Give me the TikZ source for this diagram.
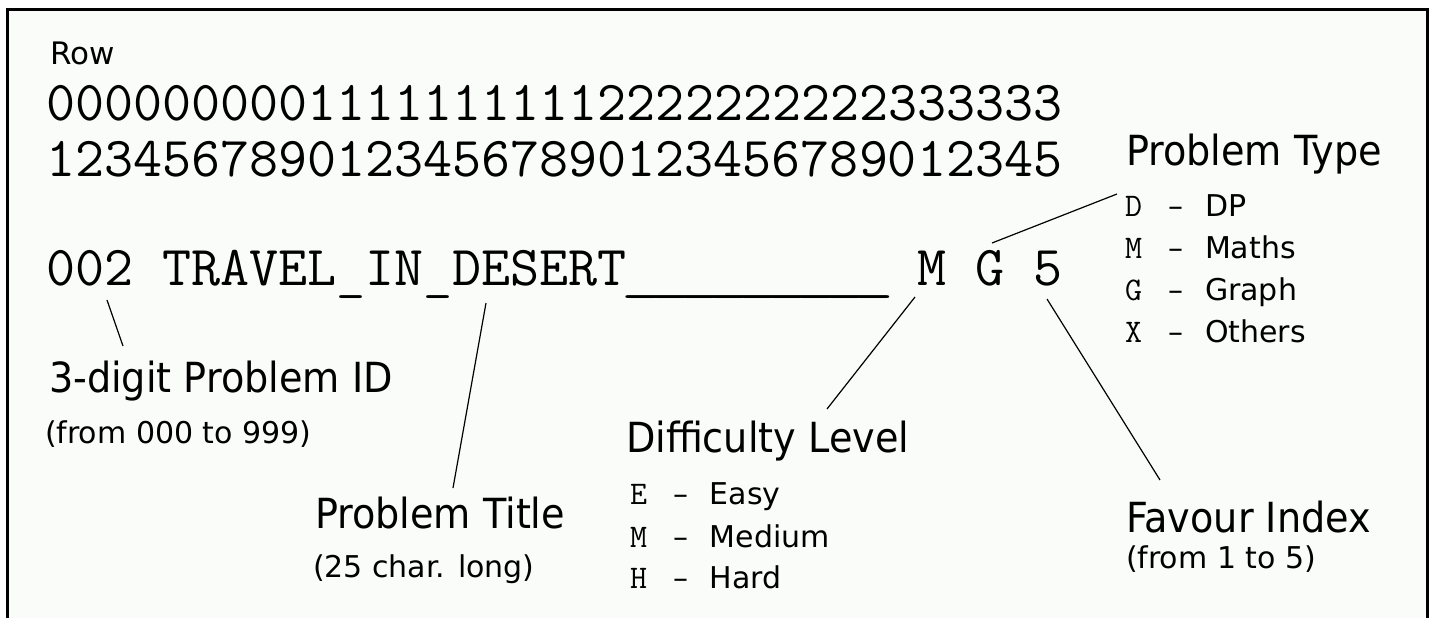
\documentclass[tikz,border=0pt]{standalone}
\usepackage{graphicx}
\usepackage{fontspec}
\setmainfont{DejaVu Sans}
\newfontfamily\tahf{DejaVu Sans}[FakeStretch=0.92]
\definecolor{paper}{HTML}{FAFCFA}
\tikzset{
  txt/.style={anchor=base west, inner sep=0pt, outer sep=0pt, text=black},
  bigmono/.style={txt, font=\ttfamily\fontsize{56.4}{56}\selectfont},
  biglbl/.style={txt, font=\tahf\fontsize{41.5}{42}\selectfont},
  smalllbl/.style={txt, font=\fontsize{30}{30}\selectfont},
  rowlbl/.style={txt, font=\fontsize{31}{31}\selectfont},
  leader/.style={draw=black, line width=1.2pt},
  frame/.style={draw=black, line width=3pt}
}
% underscore inside a word (kept at its natural width)
\newcommand{\uscin}{\raisebox{-0.08em}{\scalebox{1}[0.8]{\_}}}
% padding underscore stretched to fill its cell, as in the reference
\newcommand{\usc}{\makebox[\fontcharwd\font`0][c]{\raisebox{-0.08em}{\scalebox{1.4}[0.8]{\_}}}}
\newcommand{\litem}[2]{\makebox[43pt][l]{{\ttfamily\fontsize{33}{33}\selectfont #1}}\makebox[37pt][l]{–}#2}
\begin{document}
\begin{tikzpicture}[x=1pt,y=-1pt]
\useasboundingbox (0,0) rectangle (1430,618);
\fill[white] (0,0) rectangle (1430,618);
\fill[paper] (7.5,9.5) rectangle (1427,620);
\draw[frame] (7.5,620) -- (7.5,9.5) -- (1427,9.5) -- (1427,620);

\node[rowlbl] (row) at (50,65) {Row};
\node[bigmono] (tens) at (46,120) {00000000011111111112222222222333333};
\node[bigmono] (ones) at (46,176) {12345678901234567890123456789012345};
\node[bigmono] (rec) at (46,285) {002 TRAVEL\uscin IN\uscin DESERT\usc\usc\usc\usc\usc\usc\usc\usc\usc{} M G 5};

% Problem type
\node[biglbl] (ptype) at (1126,165) {Problem Type};
\node[smalllbl] (t1) at (1125,216) {\litem{D}{DP}};
\node[smalllbl] (t2) at (1125,258) {\litem{M}{Maths}};
\node[smalllbl] (t3) at (1125,300) {\litem{G}{Graph}};
\node[smalllbl] (t4) at (1125,342) {\litem{X}{Others}};

% ID
\node[biglbl] (pid) at (49,392) {3-digit Problem ID};
\node[smalllbl] (pidr) at (45,443) {(from 000 to 999)};

% Title
\node[biglbl] (ptitle) at (315,528) {Problem Title};
\node[smalllbl] (ptitler) at (313,577) {(25 char. long)};

% Difficulty
\node[biglbl] (diff) at (626,452) {Difficulty Level};
\node[smalllbl] (d1) at (630,504) {\litem{E}{Easy}};
\node[smalllbl] (d2) at (630,547) {\litem{M}{Medium}};
\node[smalllbl] (d3) at (630,588) {\litem{H}{Hard}};

% Favour
\node[biglbl] (fav) at (1126,532) {Favour Index};
\node[smalllbl] (favr) at (1126,568) {(from 1 to 5)};

% leader end points
\coordinate (idTop) at (107,300);
\coordinate (idBot) at (123,346);
\coordinate (tiTop) at (486,303);
\coordinate (tiBot) at (453,488);
\coordinate (dfTop) at (915,297);
\coordinate (dfBot) at (827,409);
\coordinate (tyLow) at (992,243);
\coordinate (tyHigh) at (1117,194);
\coordinate (fvTop) at (1047,299);
\coordinate (fvBot) at (1160,480);

\draw[leader] (idTop) -- (idBot);
\draw[leader] (tiTop) -- (tiBot);
\draw[leader] (dfTop) -- (dfBot);
\draw[leader] (tyLow) -- (tyHigh);
\draw[leader] (fvTop) -- (fvBot);
\end{tikzpicture}
\end{document}
